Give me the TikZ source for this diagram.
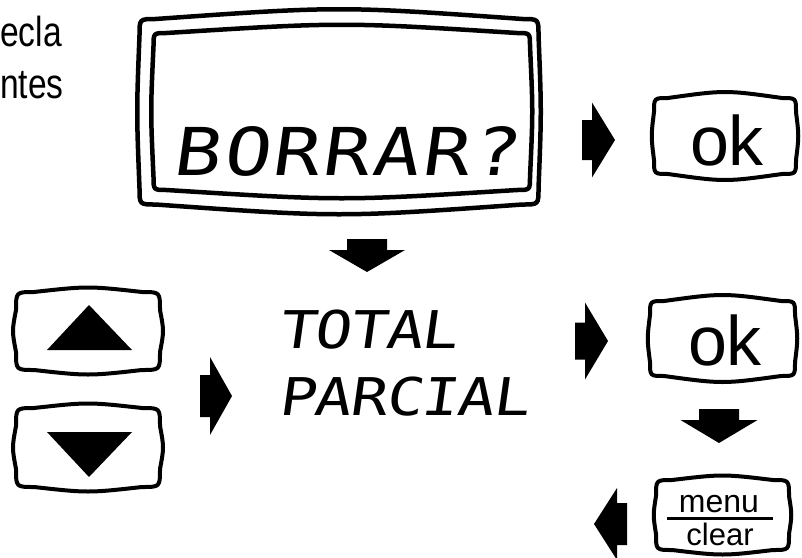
\documentclass[tikz,border=0pt]{standalone}
\usepackage{fontspec}
\setmainfont{Liberation Sans}
\newfontfamily\lcdfont{DejaVu Sans Mono}[FakeSlant=0.14,FakeStretch=1.18]
\newfontfamily\narrowfont{Liberation Sans}[FakeStretch=0.8]
% pillow-shaped rounded box: [style] x1 y1 x2 y2 r bh bv
\newcommand\pillow[8][]{%
  \pgfmathsetmacro\pxm{(#2+#4)/2}\pgfmathsetmacro\pym{(#3+#5)/2}%
  \draw[#1] (#2+#6,#3) .. controls (\pxm,#3-2*#7) .. (#4-#6,#3)
    .. controls (#4,#3) .. (#4,#3+#6)
    .. controls (#4+2*#8,\pym) .. (#4,#5-#6)
    .. controls (#4,#5) .. (#4-#6,#5)
    .. controls (\pxm,#5+2*#7) .. (#2+#6,#5)
    .. controls (#2,#5) .. (#2,#5-#6)
    .. controls (#2-2*#8,\pym) .. (#2,#3+#6)
    .. controls (#2,#3) .. cycle;}
% horizontal block arrow: xtail xbase xtip yc halfrect halfhead
\newcommand\harrow[6]{%
  \fill (#1,#4-#5) -- (#2,#4-#5) -- (#2,#4-#6) -- (#3,#4) -- (#2,#4+#6)
    -- (#2,#4+#5) -- (#1,#4+#5) -- cycle;}
% vertical block arrow: ytail ybase ytip xc halfrect halfhead
\newcommand\varrow[6]{%
  \fill (#4-#5,#1) -- (#4-#5,#2) -- (#4-#6,#2) -- (#4,#3) -- (#4+#6,#2)
    -- (#4+#5,#2) -- (#4+#5,#1) -- cycle;}
\tikzset{
  keyline/.style={line width=4pt},
  lcdline/.style={line width=4.5pt},
  txt/.style={inner sep=0pt, anchor=base},
}
\begin{document}
\begin{tikzpicture}[x=1pt,y=-1pt]
\fill[white] (0,0) rectangle (802,557);
\useasboundingbox (0,0) rectangle (802,557);

% left text (cut off)
\node[txt, anchor=base west] (t1) at (0,46) {\narrowfont\fontsize{42}{42}\selectfont ecla};
\node[txt, anchor=base west] (t2) at (0,98) {\narrowfont\fontsize{42}{42}\selectfont ntes};

% LCD display
\pillow[lcdline]{139.5}{19}{538.5}{204.5}{16}{6.5}{1.5}
\pillow[lcdline]{153.5}{33}{530}{190}{13}{5.5}{1.5}
\node[txt, anchor=base west] (borrar) at (172,175)
  {\lcdfont\fontsize{66}{66}\selectfont\addfontfeatures{LetterSpace=4.5}BORRAR?};

% arrow to ok 1
\harrow{582}{592}{615}{140}{20}{37.5}
\pillow[keyline]{654}{98}{796}{174}{14}{4}{1.5}
\node[txt] (ok1) at (727,165) {\fontsize{70}{70}\selectfont ok};

% down arrow under display
\varrow{239}{250}{272}{367}{20}{38}

% TOTAL / PARCIAL
\node[txt, anchor=base west] (total) at (278,348)
  {\lcdfont\fontsize{52}{52}\selectfont\addfontfeatures{LetterSpace=-2.5}TOTAL};
\node[txt, anchor=base west] (parcial) at (278,415)
  {\lcdfont\fontsize{52}{52}\selectfont\addfontfeatures{LetterSpace=-2.5}PARCIAL};

% up / down keys
\pillow[keyline]{16}{292}{160}{370}{18}{3}{2}
\fill (47,350) -- (132,350) -- (89,305) -- cycle;
\pillow[keyline]{16}{408}{160}{487}{18}{3}{2}
\fill (47,432) -- (132,432) -- (89,477) -- cycle;

% arrow from keys
\harrow{200}{210}{232}{396}{21}{39}

% arrow to ok 2
\harrow{575}{585}{608}{341}{18.5}{38.5}
\pillow[keyline]{650}{301}{795}{376}{14}{4}{1.5}
\node[txt] (ok2) at (725,365) {\fontsize{70}{70}\selectfont ok};

% down arrow under ok 2
\varrow{409}{420}{443}{719}{20}{38.5}

% menu/clear key
\pillow[keyline]{656}{480}{789}{550}{16}{3}{1.5}
\node[txt] (menu) at (719,512) {\fontsize{32}{32}\selectfont menu};
\coordinate (barL) at (667,518);
\coordinate (barR) at (773,518);
\draw[line width=3pt] (barL) -- (barR);
\node[txt] (clear) at (720,545) {\fontsize{31}{31}\selectfont clear};

% left arrow
\harrow{627}{617}{594}{524}{21}{36}
\end{tikzpicture}
\end{document}
